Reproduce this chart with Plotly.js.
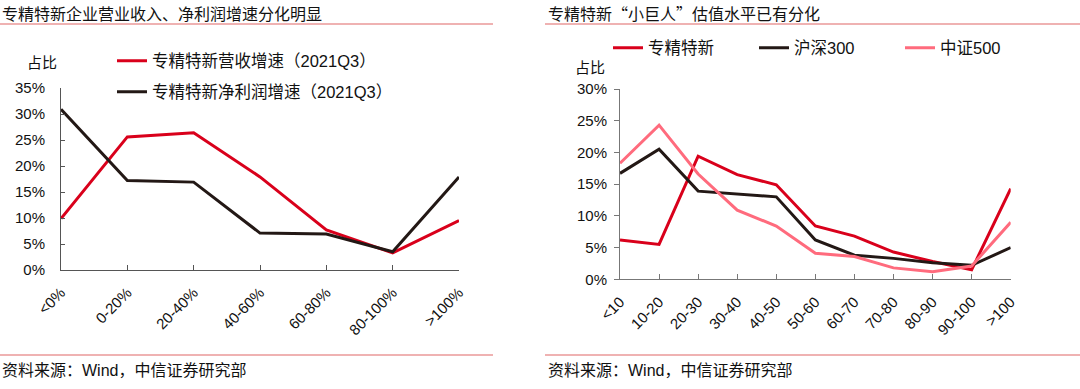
<!DOCTYPE html>
<html><head><meta charset="utf-8">
<script src="https://cdn.plot.ly/plotly-3.0.1.min.js"></script>
<style>html,body{margin:0;padding:0;background:#fff}#c{width:1080px;height:389px}</style>
</head><body><div id="c"></div>
<script>
// Left panel
const growthBins = ['<0%','0-20%','20-40%','40-60%','60-80%','80-100%','>100%'];
const revenueShare = [0.099,0.256,0.264,0.179,0.077,0.033,0.095];
const profitShare  = [0.309,0.172,0.169,0.071,0.069,0.035,0.179];
// Right panel
const peBins = ['<10','10-20','20-30','30-40','40-50','50-60','60-70','70-80','80-90','90-100','>100'];
const zjtxShare = [0.062,0.055,0.194,0.165,0.149,0.084,0.068,0.043,0.028,0.015,0.143];
const hs300Share = [0.167,0.205,0.139,0.134,0.130,0.062,0.038,0.033,0.026,0.022,0.050];
const zz500Share = [0.183,0.243,0.166,0.109,0.084,0.041,0.036,0.018,0.012,0.021,0.090];

const RED='#d9001b', BLACK='#231815', PINK='#ff6b7d';
const F='"Liberation Sans", Arial, "Noto Sans CJK SC", sans-serif';
const FC='"Noto Sans CJK SC", "Liberation Sans", sans-serif';
const W=1080,H=389;
const px=x=>x/W, py=y=>(H-y)/H;

const traces=[
 {x:growthBins,y:revenueShare,type:'scatter',mode:'lines',name:'专精特新营收增速（2021Q3）',line:{color:RED,width:3},xaxis:'x',yaxis:'y',legend:'legend',showlegend:true},
 {x:growthBins,y:profitShare,type:'scatter',mode:'lines',name:'专精特新净利润增速（2021Q3）',line:{color:BLACK,width:3},xaxis:'x',yaxis:'y',legend:'legend2',showlegend:true},
 {x:peBins,y:zjtxShare,type:'scatter',mode:'lines',name:'专精特新',line:{color:RED,width:3},xaxis:'x2',yaxis:'y2',legend:'legend3',showlegend:true},
 {x:peBins,y:hs300Share,type:'scatter',mode:'lines',name:'沪深300',line:{color:BLACK,width:3},xaxis:'x2',yaxis:'y2',legend:'legend3',showlegend:true},
 {x:peBins,y:zz500Share,type:'scatter',mode:'lines',name:'中证500',line:{color:PINK,width:3},xaxis:'x2',yaxis:'y2',legend:'legend3',showlegend:true}
];
const tickfont={family:F,size:15,color:'#111'};
const axCommon={showgrid:false,zeroline:false,showline:true,linecolor:'#555',linewidth:1,tickcolor:'#555',tickwidth:1,tickfont:tickfont,automargin:false};
const legFont={family:F,size:16.5,color:'#111'};
const layout={
 width:W,height:H,margin:{l:0,r:0,t:0,b:0,autoexpand:false},paper_bgcolor:'#fff',plot_bgcolor:'#fff',
 showlegend:true,
 font:{family:F,size:15,color:'#111'},
 xaxis:Object.assign({},axCommon,{domain:[px(61),px(459)],type:'category',range:[0,growthBins.length-1],ticks:'inside',ticklen:5,tickangle:-45,ticklabelstandoff:7,anchor:'y'}),
 yaxis:Object.assign({},axCommon,{domain:[py(270),py(88)],range:[0,0.35],dtick:0.05,tickformat:'.0%',ticks:'inside',ticklen:4,ticklabelstandoff:12,anchor:'x'}),
 xaxis2:Object.assign({},axCommon,{domain:[px(620),px(1010.7)],type:'category',range:[0,peBins.length-1],ticks:'inside',ticklen:5,tickangle:-45,ticklabelstandoff:7,anchor:'y2',linecolor:'#777',tickcolor:'#777'}),
 yaxis2:Object.assign({},axCommon,{domain:[py(279.3),py(89)],range:[0,0.30],dtick:0.05,tickformat:'.0%',ticks:'outside',ticklen:5,ticklabelstandoff:4,anchor:'x2',linecolor:'#777',tickcolor:'#777'}),
 legend:{xref:'container',yref:'container',x:px(112),xanchor:'left',y:py(61),yanchor:'middle',bgcolor:'rgba(0,0,0,0)',font:legFont},
 legend2:{xref:'container',yref:'container',x:px(112),xanchor:'left',y:py(92),yanchor:'middle',bgcolor:'rgba(0,0,0,0)',font:legFont},
 legend3:{xref:'container',yref:'container',orientation:'h',x:px(608),xanchor:'left',y:py(48),yanchor:'middle',bgcolor:'rgba(0,0,0,0)',entrywidth:101,entrywidthmode:'pixels',font:legFont},
 shapes:[
  {type:'line',xref:'paper',yref:'paper',x0:0,x1:px(493),y0:py(24),y1:py(24),line:{color:'#e06666',width:1.2}},
  {type:'line',xref:'paper',yref:'paper',x0:px(545),x1:1,y0:py(24),y1:py(24),line:{color:'#e06666',width:1.2}},
  {type:'line',xref:'paper',yref:'paper',x0:0,x1:px(493),y0:py(355),y1:py(355),line:{color:'#e06666',width:1.2}},
  {type:'line',xref:'paper',yref:'paper',x0:px(545),x1:1,y0:py(355),y1:py(355),line:{color:'#e06666',width:1.2}}
 ],
 annotations:[
  {text:'专精特新企业营业收入、净利润增速分化明显',xref:'paper',yref:'paper',x:0,y:py(13),xanchor:'left',yanchor:'middle',showarrow:false,font:{family:FC,size:16,color:'#111'}},
  {text:'专精特新“小巨人”估值水平已有分化',xref:'paper',yref:'paper',x:px(546),y:py(13),xanchor:'left',yanchor:'middle',showarrow:false,font:{family:FC,size:16,color:'#111'}},
  {text:'资料来源：Wind，中信证券研究部',xref:'paper',yref:'paper',x:0,y:py(370),xanchor:'left',yanchor:'middle',showarrow:false,font:{family:F,size:16,color:'#111'}},
  {text:'资料来源：Wind，中信证券研究部',xref:'paper',yref:'paper',x:px(546),y:py(370),xanchor:'left',yanchor:'middle',showarrow:false,font:{family:F,size:16,color:'#111'}},
  {text:'占比',xref:'paper',yref:'paper',x:px(42),y:py(62),xanchor:'center',yanchor:'middle',showarrow:false,font:{family:F,size:15,color:'#111'}},
  {text:'占比',xref:'paper',yref:'paper',x:px(590),y:py(68),xanchor:'center',yanchor:'middle',showarrow:false,font:{family:F,size:15,color:'#111'}}
 ]
};
Plotly.newPlot('c',traces,layout,{displayModeBar:false,staticPlot:true});
</script></body></html>
